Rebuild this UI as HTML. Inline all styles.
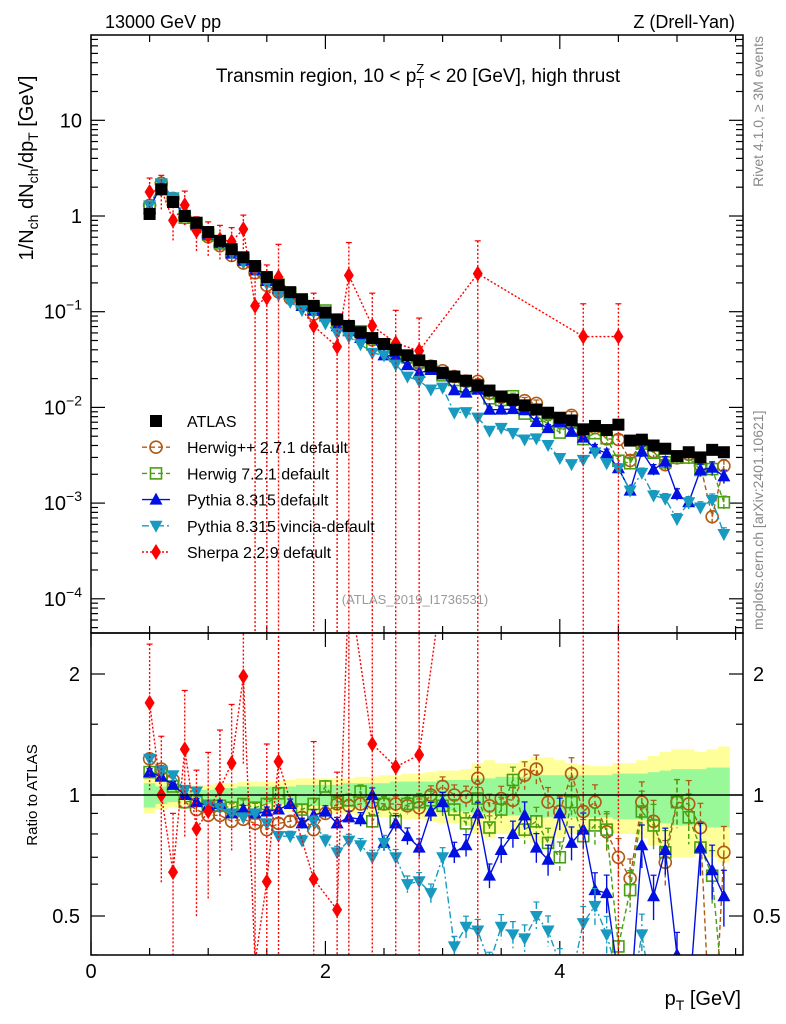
<!DOCTYPE html>
<html><head><meta charset="utf-8"><style>
html,body{margin:0;padding:0;background:#fff;width:786px;height:1024px;overflow:hidden}
svg{display:block;font-family:"Liberation Sans",sans-serif}
</style></head><body>
<svg id="chart" width="786" height="1024" viewBox="0 0 786 1024" xmlns="http://www.w3.org/2000/svg">
<defs>
<clipPath id="cm"><rect x="91" y="35" width="652" height="598"/></clipPath>
<clipPath id="cr"><rect x="91" y="633" width="652" height="322"/></clipPath>
</defs>
<g id="bands" clip-path="url(#cr)"></g>
<g id="ticks"></g>
<g id="mainMarks" clip-path="url(#cm)"></g>
<g id="ratioMarks" clip-path="url(#cr)"></g>
<rect x="91" y="35" width="652" height="598" fill="none" stroke="#000" stroke-width="1.5"/>
<rect x="91" y="633" width="652" height="322" fill="none" stroke="#000" stroke-width="1.5"/>
<line x1="91" x2="743" y1="795" y2="795" stroke="#000" stroke-width="1.5"/>
<text x="105" y="28" font-size="18">13000 GeV pp</text>
<text x="735" y="28" font-size="18" text-anchor="end">Z (Drell-Yan)</text>
<text x="418" y="82" font-size="19" text-anchor="middle">Transmin region, 10 &lt; p<tspan font-size="13" dy="6">T</tspan><tspan font-size="13" dx="-8" dy="-15">Z</tspan><tspan dy="9"> &lt; 20 [GeV], high thrust</tspan></text>
<text transform="translate(33,168) rotate(-90)" font-size="20" text-anchor="middle">1/N<tspan font-size="14" dy="5">ch</tspan><tspan dy="-5"> dN</tspan><tspan font-size="14" dy="5">ch</tspan><tspan dy="-5">/dp</tspan><tspan font-size="14" dy="5">T</tspan><tspan dy="-5"> [GeV]</tspan></text>
<text transform="translate(37,795) rotate(-90)" font-size="15" text-anchor="middle">Ratio to ATLAS</text>
<text x="741" y="1005" font-size="20" text-anchor="end">p<tspan font-size="14" dy="5">T</tspan><tspan dy="-5"> [GeV]</tspan></text>
<text transform="translate(763,36) rotate(-90)" font-size="14" fill="#888" text-anchor="end">Rivet 4.1.0, ≥ 3M events</text>
<text transform="translate(763,630) rotate(-90)" font-size="14" fill="#888">mcplots.cern.ch [arXiv:2401.10621]</text>
<text x="415" y="604" font-size="13" fill="#999" text-anchor="middle">(ATLAS_2019_I1736531)</text>
<g id="legend"></g>
</svg>
<script>
const xs = [];
for (let i = 0; i < 50; i++) xs.push(+(0.5 + i * 0.1).toFixed(1));
const atlas = [1.05,1.9,1.4,1.0,0.85,0.68,0.55,0.45,0.37,0.3,0.23,0.19,0.16,0.135,0.115,0.098,0.083,0.071,0.061,0.053,0.046,0.040,0.035,0.031,0.027,0.023,0.021,0.019,0.017,0.015,0.013,0.012,0.0105,0.0095,0.0088,0.0078,0.0073,0.0059,0.0064,0.0058,0.0066,0.0045,0.0046,0.0040,0.0037,0.0031,0.0034,0.0030,0.0036,0.0034];
const herwigpp = [1.23,1.16,1.09,0.96,0.92,0.89,0.89,0.86,0.87,0.85,0.82,0.85,0.86,0.88,0.82,0.9,0.95,0.94,0.95,0.96,0.95,0.95,0.94,0.93,1.0,1.05,1.0,0.99,1.1,0.94,0.98,0.97,1.12,1.16,0.96,0.91,1.13,0.91,0.96,0.81,0.70,0.62,0.96,0.86,0.68,0.96,0.95,0.83,0.2,0.72];
const herwig7 = [1.14,1.12,1.05,0.96,0.97,0.94,0.94,0.93,0.95,0.93,0.95,1.01,0.97,0.92,0.95,1.05,0.96,0.97,1.02,0.86,0.95,0.86,0.95,0.96,0.97,0.94,0.92,0.85,0.98,0.83,0.92,1.09,0.82,0.86,0.76,0.70,0.96,0.79,0.84,0.82,0.42,0.58,0.91,0.84,0.72,0.96,0.88,0.74,0.63,0.3];
const pythia = [1.14,1.11,1.06,1.0,0.96,0.94,0.95,0.9,0.92,0.9,0.91,0.92,0.95,0.85,0.89,0.91,0.85,0.88,0.87,1.0,0.76,0.85,0.79,0.74,0.91,0.96,0.72,0.75,0.9,0.63,0.73,0.8,0.89,0.74,0.69,0.9,0.76,0.82,0.58,0.57,0.35,0.3,0.75,0.56,0.73,0.4,0.3,0.74,0.65,0.56];
const vincia = [1.23,1.15,1.12,1.03,1.02,0.94,0.93,0.9,0.88,0.9,0.85,0.79,0.79,0.77,0.86,0.77,0.72,0.77,0.75,0.7,0.76,0.7,0.6,0.61,0.57,0.7,0.42,0.47,0.46,0.38,0.47,0.45,0.44,0.5,0.46,0.38,0.35,0.48,0.53,0.45,0.35,0.3,0.45,0.3,0.3,0.22,0.3,0.3,0.3,0.14];
const sherpa = [1.78,1.9,0.9,1.3,0.7,0.62,0.57,0.54,0.73,0.115,0.14,0.23,null,null,0.071,null,0.043,0.24,null,0.071,null,0.047,null,0.039,null,null,null,null,0.25,null,null,null,null,null,null,null,null,0.055,null,null,0.055,null,null,null,null,null,null,null,null,null];
const bandTotal = [0.1,0.08,0.07,0.06,0.06,0.06,0.07,0.07,0.08,0.08,0.08,0.08,0.09,0.1,0.1,0.1,0.1,0.1,0.11,0.11,0.12,0.12,0.13,0.13,0.14,0.15,0.15,0.16,0.2,0.22,0.2,0.2,0.22,0.24,0.24,0.22,0.2,0.19,0.18,0.18,0.2,0.2,0.22,0.25,0.28,0.3,0.3,0.28,0.3,0.32];
const bandStat = [0.07,0.05,0.04,0.03,0.03,0.03,0.04,0.04,0.05,0.05,0.05,0.05,0.05,0.06,0.06,0.06,0.06,0.07,0.07,0.07,0.07,0.08,0.08,0.08,0.08,0.09,0.09,0.09,0.1,0.1,0.11,0.11,0.11,0.12,0.12,0.12,0.12,0.12,0.12,0.12,0.13,0.13,0.13,0.14,0.15,0.16,0.16,0.16,0.17,0.17];
const mainTickLabels = ["10","1","10^-1","10^-2","10^-3","10^-4"];
const ratioTickLabels = ["2","1","0.5"];
const xTickLabels = ["0","2","4"];

const NS = "http://www.w3.org/2000/svg";
const X = v => 91 + v * 117.2;
const Ym = v => 216 - 95.7 * Math.log10(v);
const Yr = r => 795 - 121 * Math.log2(r);
function mk(tag, attrs, parent) {
  const e = document.createElementNS(NS, tag);
  for (const k in attrs) e.setAttribute(k, attrs[k]);
  parent.appendChild(e);
  return e;
}
const gB = document.getElementById('bands'), gT = document.getElementById('ticks');
const gM = document.getElementById('mainMarks'), gR = document.getElementById('ratioMarks');
const gL = document.getElementById('legend');

function bandPath(arr) {
  let top = '', bot = [];
  xs.forEach((x, i) => {
    const x0 = X(x - 0.05), x1 = X(x + 0.05);
    top += (i ? 'L' : 'M') + x0 + ',' + Yr(1 + arr[i]) + 'L' + x1 + ',' + Yr(1 + arr[i]);
    bot.unshift('L' + x1 + ',' + Yr(1 - arr[i]) + 'L' + x0 + ',' + Yr(1 - arr[i]));
  });
  return top + bot.join('') + 'Z';
}
const yb = mk('path', {d: bandPath(bandTotal), fill: '#ffff99'}, gB);


const gb = mk('path', {d: bandPath(bandStat), fill: '#99f999'}, gB);



function tick(x1, y1, x2, y2) { mk('line', {x1, y1, x2, y2, stroke: '#000', 'stroke-width': 1.2}, gT); }
for (let d = -5; d <= 1; d++) {
  for (let m = 1; m <= 9; m++) {
    const y = Ym(m * Math.pow(10, d));
    if (y < 35 || y > 633) continue;
    const L = m === 1 ? 14 : 7;
    tick(91, y, 91 + L, y); tick(743, y, 743 - L, y);
  }
}
mainTickLabels.forEach((t, i) => {
  const y = Ym(Math.pow(10, 1 - i)) + 7;
  const el = mk('text', {x: 82, y, 'font-size': 20, 'text-anchor': 'end'}, gT);
  
  
  if (t.includes('^')) {
    const [b, e] = t.split('^');
    el.textContent = b;
    const ts = mk('tspan', {'font-size': 14, dy: -9}, el);
    ts.textContent = e.replace('-', '−');
  } else el.textContent = t;
});
[0.4,0.5,0.6,0.7,0.8,0.9,1,1.5,2].forEach(r => {
  const y = Yr(r); const L = (r === 0.5 || r === 1 || r === 2) ? 14 : 7;
  tick(91, y, 91 + L, y); tick(743, y, 743 - L, y);
});
[2, 1, 0.5].forEach((r, i) => {
  const y = Yr(r) + 7;
  const a = mk('text', {x: 80, y, 'font-size': 20, 'text-anchor': 'end'}, gT);
  a.textContent = ratioTickLabels[i];
  
  
  const b = mk('text', {x: 753, y, 'font-size': 20}, gT);
  b.textContent = ratioTickLabels[i];
  
  
});
for (let v = 0; v <= 5.5; v += 0.5) {
  const x = X(v); const L = (v % 2 === 0) ? 14 : 7;
  tick(x, 955, x, 955 - L); tick(x, 633, x, 633 + L); tick(x, 633, x, 633 - L); tick(x, 35, x, 35 + L);
}
xTickLabels.forEach(t => {
  const el = mk('text', {x: X(+t), y: 978, 'font-size': 20, 'text-anchor': 'middle'}, gT);
  el.textContent = t;
  
  
});

function marker(g, type, x, y, color) {
  let e;
  if (type === 'square') e = mk('rect', {x: x - 6, y: y - 6, width: 12, height: 12, fill: '#000'}, g);
  else if (type === 'circle') e = mk('circle', {cx: x, cy: y, r: 6, fill: 'none', stroke: color, 'stroke-width': 1.6}, g);
  else if (type === 'osquare') e = mk('rect', {x: x - 5.5, y: y - 5.5, width: 11, height: 11, fill: 'none', stroke: color, 'stroke-width': 1.6}, g);
  else if (type === 'tup') e = mk('path', {d: `M${x},${y-7}L${x+6.5},${y+5}L${x-6.5},${y+5}Z`, fill: color}, g);
  else if (type === 'tdn') e = mk('path', {d: `M${x},${y+7}L${x+6.5},${y-5}L${x-6.5},${y-5}Z`, fill: color}, g);
  else e = mk('path', {d: `M${x},${y-8}L${x+5},${y}L${x},${y+8}L${x-5},${y}Z`, fill: color}, g);
  return e;
}
const series = [
  {name: 'herwigpp', label: 'Herwig++ 2.7.1 default', r: herwigpp, color: '#b05a14', type: 'circle', dash: '5,3'},
  {name: 'herwig7', label: 'Herwig 7.2.1 default', r: herwig7, color: '#48a010', type: 'osquare', dash: '5,3'},
  {name: 'pythia', label: 'Pythia 8.315 default', r: pythia, color: '#0010e0', type: 'tup', dash: ''},
  {name: 'vincia', label: 'Pythia 8.315 vincia-default', r: vincia, color: '#1899c0', type: 'tdn', dash: '7,3,2,3'},
];
function drawSeries(s, vals, g, Yf, errs) {
  let d = '';
  vals.forEach((v, i) => { if (v == null) return; d += (d ? 'L' : 'M') + X(xs[i]) + ',' + Yf(v); });
  const p = mk('path', {d, fill: 'none', stroke: s.color, 'stroke-width': 1.4, 'stroke-dasharray': s.dash}, g);
  
  
  vals.forEach((v, i) => {
    if (v == null) return;
    const x = X(xs[i]);
    const [lo, hi] = errs(v, i);
    mk('line', {x1: x, x2: x, y1: Yf(hi), y2: Yf(lo), stroke: s.color, 'stroke-width': 1.4, 'stroke-dasharray': s.dash}, g);
    mk('line', {x1: x - 3, x2: x + 3, y1: Yf(hi), y2: Yf(hi), stroke: s.color, 'stroke-width': 1.2}, g);
    const m = marker(g, s.type, x, Yf(v), s.color);
    
    
  });
}
const relErr = i => 0.02 + 0.14 * Math.pow(i / 49, 2);
series.forEach(s => {
  drawSeries(s, s.r.map((r, i) => r * atlas[i]), gM, Ym, (v, i) => [v * (1 - relErr(i)), v * (1 + relErr(i))]);
  drawSeries(s, s.r, gR, Yr, (v, i) => [v * (1 - relErr(i)), v * (1 + relErr(i))]);
});
const sh = {name: 'sherpa', color: '#ff0000', type: 'diamond', dash: '2,2'};
const shErr = (v, i) => i >= 9 ? [1e-6, v * 2.2] : [v * 0.6, v * 1.4];
drawSeries(sh, sherpa, gM, Ym, shErr);
drawSeries(sh, sherpa.map((v, i) => v == null ? null : v / atlas[i]), gR, Yr, shErr);
atlas.forEach((v, i) => {
  const m = marker(gM, 'square', X(xs[i]), Ym(v), '#000');
  
  
});

const leg = [{label: 'ATLAS', color: '#000', type: 'square', dash: null}].concat(series).concat([{label: 'Sherpa 2.2.9 default', color: '#ff0000', type: 'diamond', dash: '2,2'}]);
leg.forEach((s, k) => {
  const y = 421 + k * 26.2;
  const g = mk('g', {}, gL);
  
  
  if (s.dash !== null) mk('line', {x1: 142, x2: 170, y1: y, y2: y, stroke: s.color, 'stroke-width': 1.4, 'stroke-dasharray': s.dash}, g);
  marker(g, s.type, 156, y, s.color);
  const t = mk('text', {x: 187, y: y + 6, 'font-size': 16}, g);
  t.textContent = s.label;
});
</script>
</body></html>
